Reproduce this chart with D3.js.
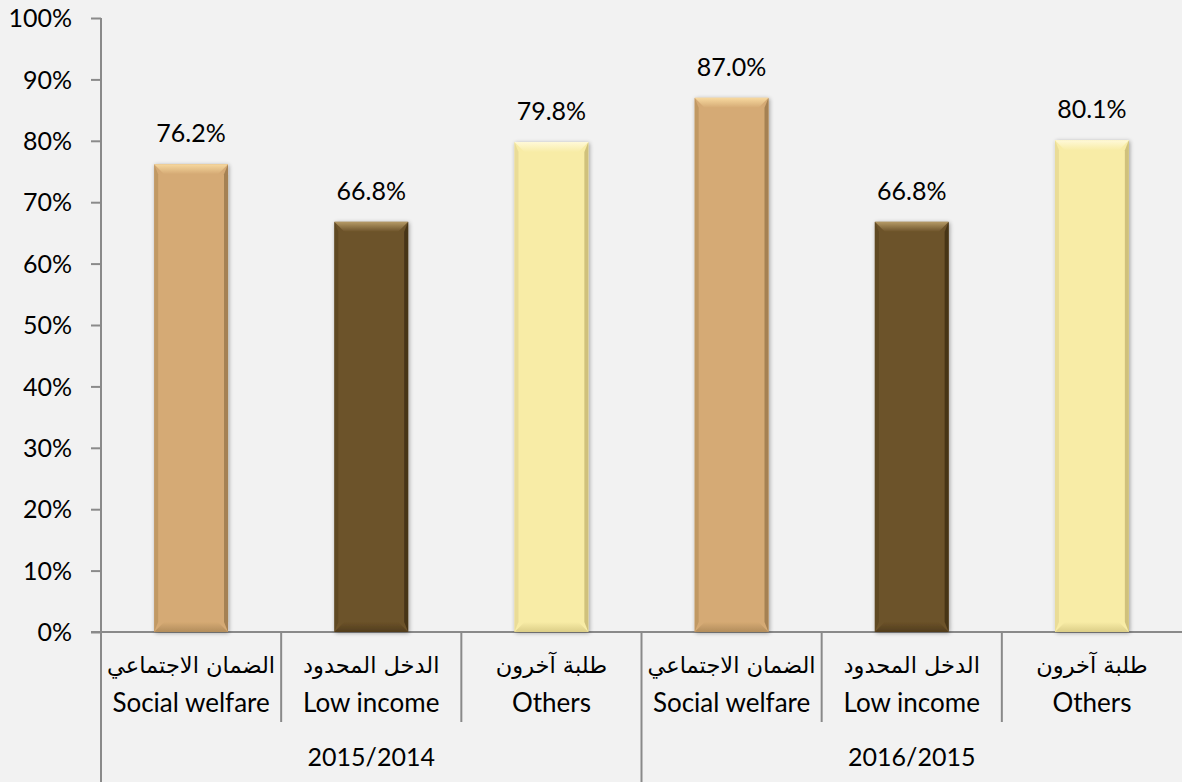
<!DOCTYPE html>
<html><head><meta charset="utf-8">
<script src="https://cdn.jsdelivr.net/npm/d3@7"></script>
<style>
html,body{margin:0;padding:0;background:#f2f2f2;}
svg{display:block;font-family:Lato,"Open Sans",sans-serif;}
</style></head>
<body>
<svg id="c" width="1182" height="782"></svg>
<script>
const categoriesAr = ["الضمان الاجتماعي","الدخل المحدود","طلبة آخرون","الضمان الاجتماعي","الدخل المحدود","طلبة آخرون"];
const categoriesEn = ["Social welfare","Low income","Others","Social welfare","Low income","Others"];
const groups = ["2015/2014","2016/2015"];
const values = [76.2, 66.8, 79.8, 87.0, 66.8, 80.1];
const colorIdx = [0,1,2,0,1,2];
const yTicks = [0,10,20,30,40,50,60,70,80,90,100];

const palette = [
  {base:"#D5AA74", light:"#F7D9A0", dark:"#9C7A4C", side:"#B8915E"},
  {base:"#6C5229", light:"#B59A66", dark:"#3F2F15", side:"#5A4421"},
  {base:"#F8ECA6", light:"#FFF9D8", dark:"#C9BA73", side:"#E4D591"}
];

(function(){
const svg = d3.select("#c");
const pLeft = 101, pRight = 1182, pTop = 18, pBottom = 632;
const FS = 25;
const idx = d3.range(values.length);
const x = d3.scaleBand().domain(idx).range([pLeft, pRight]).padding(0);
const y = d3.scaleLinear().domain([0,100]).range([pBottom, pTop]);
const barW = x.bandwidth()*0.41;

const defs = svg.append("defs");
const f = defs.append("filter").attr("id","sh").attr("x","-20%").attr("y","-20%").attr("width","140%").attr("height","140%");
f.append("feGaussianBlur").attr("in","SourceAlpha").attr("stdDeviation",2).attr("result","b");
f.append("feOffset").attr("in","b").attr("dx",1).attr("dy",1).attr("result","o");
f.append("feComponentTransfer").attr("in","o").attr("result","oa").append("feFuncA").attr("type","linear").attr("slope",0.35);
const m = f.append("feMerge"); m.append("feMergeNode").attr("in","oa"); m.append("feMergeNode").attr("in","SourceGraphic");

palette.forEach((p,i)=>{
  const g = defs.append("linearGradient").attr("id","top"+i).attr("x1",0).attr("y1",0).attr("x2",0).attr("y2",1);
  g.append("stop").attr("offset",0).attr("stop-color",p.light);
  g.append("stop").attr("offset",1).attr("stop-color",p.base);
  const gb = defs.append("linearGradient").attr("id","bot"+i).attr("x1",0).attr("y1",0).attr("x2",0).attr("y2",1);
  gb.append("stop").attr("offset",0).attr("stop-color",p.base);
  gb.append("stop").attr("offset",1).attr("stop-color",p.dark);
});

const axisColor = "#8a8a8a";
svg.append("line").attr("x1",pLeft).attr("x2",pLeft).attr("y1",pTop).attr("y2",782).attr("stroke",axisColor).attr("stroke-width",2);
svg.append("line").attr("x1",pLeft-10).attr("x2",pRight).attr("y1",pBottom).attr("y2",pBottom).attr("stroke",axisColor).attr("stroke-width",2);

const yAxis = d3.axisLeft(y).tickValues(yTicks).tickSize(10).tickFormat(d=>d+"%");
const ya = svg.append("g").attr("transform",`translate(${pLeft},0)`).call(yAxis);
ya.select(".domain").remove();
ya.selectAll(".tick line").attr("stroke",axisColor).attr("stroke-width",2);
ya.selectAll(".tick text").attr("font-size",FS).attr("fill","#000").attr("x",-29).attr("dy","0.35em").attr("font-family","Lato,'Open Sans',sans-serif");

idx.slice(1).forEach(i=>{
  const xx = x(i);
  const isGroup = i===3;
  svg.append("line").attr("x1",xx).attr("x2",xx).attr("y1",pBottom).attr("y2",isGroup?782:722)
    .attr("stroke",axisColor).attr("stroke-width",2);
});

const bars = svg.append("g").selectAll("g").data(idx).join("g").attr("filter","url(#sh)");
bars.each(function(i){
  const g = d3.select(this);
  const p = palette[colorIdx[i]], ci = colorIdx[i];
  const x0 = x(i) + (x.bandwidth()-barW)/2, x1 = x0 + barW;
  const y0 = y(values[i]), y1 = y(0);
  const b = 10, s = 4;
  g.append("rect").attr("x",x0).attr("y",y0).attr("width",barW).attr("height",y1-y0).attr("fill",p.base);
  g.append("polygon").attr("points",[[x0,y0],[x0+s,y0+b],[x0+s,y1-b],[x0,y1]].join(" ")).attr("fill",p.side).attr("opacity",0.7);
  g.append("polygon").attr("points",[[x1,y0],[x1-s,y0+b],[x1-s,y1-b],[x1,y1]].join(" ")).attr("fill",p.dark).attr("opacity",0.85);
  g.append("polygon").attr("points",[[x0,y0],[x1,y0],[x1-b,y0+b],[x0+b,y0+b]].join(" ")).attr("fill",`url(#top${ci})`);
  g.append("polygon").attr("points",[[x0,y1],[x1,y1],[x1-b,y1-b],[x0+b,y1-b]].join(" ")).attr("fill",`url(#bot${ci})`).attr("opacity",0.6);
});

svg.append("g").selectAll("text").data(idx).join("text")
  .attr("x",i=>x(i)+x.bandwidth()/2).attr("y",i=>y(values[i])-22)
  .attr("text-anchor","middle").attr("font-size",FS).attr("fill","#000")
  .text(i=>values[i].toFixed(1)+"%");

svg.append("g").selectAll("text").data(idx).join("text")
  .attr("x",i=>x(i)+x.bandwidth()/2).attr("y",673)
  .attr("text-anchor","middle").attr("font-size",22.5).attr("fill","#000")
  .attr("font-family","'DejaVu Sans','Noto Sans',sans-serif")
  .text(i=>categoriesAr[i]);
svg.append("g").selectAll("text").data(idx).join("text")
  .attr("x",i=>x(i)+x.bandwidth()/2).attr("y",712)
  .attr("text-anchor","middle").attr("font-size",FS+1).attr("fill","#000")
  .text(i=>categoriesEn[i]);

svg.append("g").selectAll("text").data(groups).join("text")
  .attr("x",(d,gi)=>(x(gi*3)+x(gi*3+2)+x.bandwidth())/2).attr("y",766)
  .attr("text-anchor","middle").attr("font-size",FS).attr("fill","#000")
  .text(d=>d);
})();
</script>
</body></html>
